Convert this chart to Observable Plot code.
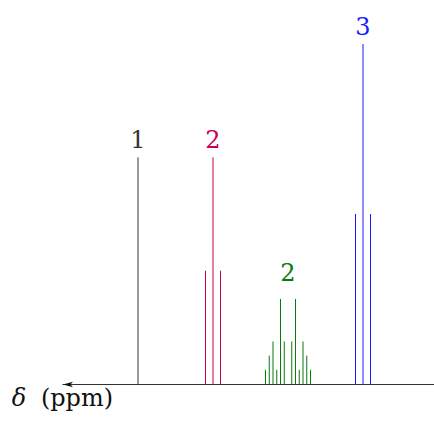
<!DOCTYPE html>
<html>
<head>
<meta charset="utf-8">
<script src="https://cdn.jsdelivr.net/npm/d3@7"></script>
<script src="https://cdn.jsdelivr.net/npm/@observablehq/plot@0.6"></script>
<style>
  html, body { margin: 0; padding: 0; background: #fff; }
  #chart { width: 434px; height: 423px; }
</style>
</head>
<body>
<div id="chart"></div>
<script>
// Signal 1: singlet
const shifts1 = [4.0];
const heights1 = [2];
// Signal 2a: triplet
const shifts2a = [3.1, 3.0, 2.9];
const heights2a = [1, 2, 1];
// Signal 2b: multiplet
const shifts2b = [2.3, 2.25, 2.2, 2.15, 2.1, 2.05, 1.95, 1.9, 1.85, 1.8, 1.75, 1.7];
const heights2b = [0.125, 0.25, 0.375, 0.125, 0.75, 0.375, 0.375, 0.75, 0.125, 0.375, 0.25, 0.125];
// Signal 3: triplet
const shifts3 = [1.1, 1.0, 0.9];
const heights3 = [1.5, 3, 1.5];
// Labels
const labelText = ["1", "2", "2", "3"];
const labelShift = [4.0, 3.0, 2.0, 1.0];
const labelHeight = [2, 2, 0.75, 3];
const colors = ["#333333", "#c8004e", "#0a7a0a", "#1a1aff"];
const axisLabel = "δ";
const axisUnit = "(ppm)";

const mk = (s, h) => s.map((x, i) => ({x, h: h[i]}));
const sig = [mk(shifts1, heights1), mk(shifts2a, heights2a), mk(shifts2b, heights2b), mk(shifts3, heights3)];
const labels = labelText.map((t, i) => ({t, x: labelShift[i], y: labelHeight[i], c: colors[i]}));

const arrowHead = {
  draw(ctx) {
    ctx.moveTo(0, 0);
    ctx.lineTo(10, -2.8);
    ctx.lineTo(7.5, 0);
    ctx.lineTo(10, 2.8);
    ctx.closePath();
  }
};

const font = "DejaVu Serif";
const chart = Plot.plot({
  width: 434,
  height: 423,
  margin: 0,
  x: {domain: [5, 0], range: [62.5, 437.5], axis: null},
  y: {domain: [0, 3], range: [384, 44], axis: null},
  style: {fontFamily: font, background: "white"},
  marks: [
    Plot.ruleY([0], {x1: 5, x2: 0, stroke: "#333", strokeWidth: 1}),
    Plot.dot([0], {x: () => 5, y: () => 0, symbol: arrowHead, fill: "#111", stroke: "none"}),
    ...sig.map((d, i) => Plot.ruleX(d, {x: "x", y1: 0, y2: "h", stroke: colors[i], strokeWidth: 1})),
    Plot.text(labels.filter((d, i) => i !== 2), {x: "x", y: "y", text: "t", fill: "c", fontSize: 24, fontFamily: font, lineAnchor: "bottom", dy: -10}),
    Plot.text(labels.filter((d, i) => i === 2), {x: "x", y: "y", text: "t", fill: "c", fontSize: 24, fontFamily: font, lineAnchor: "bottom", dy: -19}),
    Plot.text([axisLabel], {x: () => 5, y: () => 0, text: d => d, fontSize: 24, fontFamily: font, fontStyle: "italic", lineAnchor: "bottom", dy: 21, dx: -44, fill: "#111"}),
    Plot.text([axisUnit], {x: () => 5, y: () => 0, text: d => d, fontSize: 24, fontFamily: font, lineAnchor: "bottom", dy: 21, dx: 14, fill: "#111"})
  ]
});
document.getElementById("chart").appendChild(chart);
</script>
</body>
</html>
